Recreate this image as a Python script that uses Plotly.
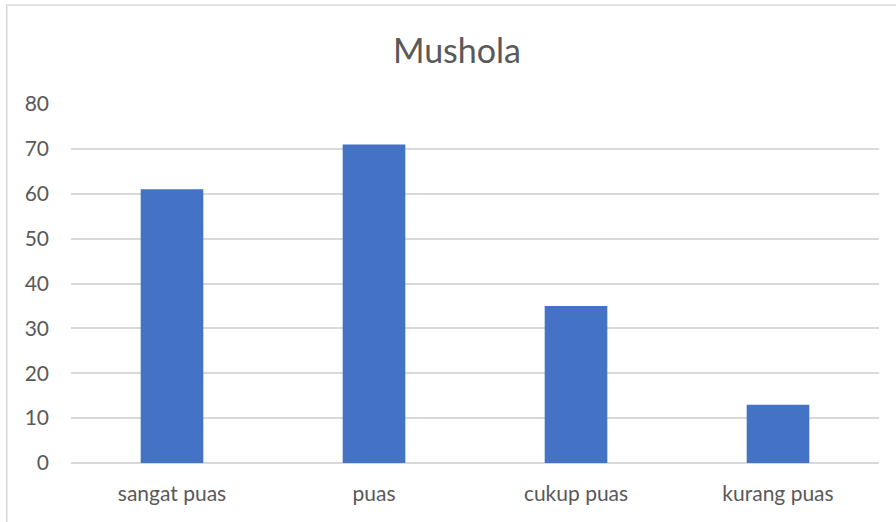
import plotly.graph_objects as go

BAR_BLUE = '#4472C4'
TEXT_GREY = '#595959'
GRID_GREY = '#D9D9D9'

categories = ['sangat puas', 'puas', 'cukup puas', 'kurang puas']
values = [61, 71, 35, 13]
y_ticks = [0, 10, 20, 30, 40, 50, 60, 70, 80]

fig = go.Figure()

fig.add_trace(go.Bar(
    x=categories,
    y=values,
    marker=dict(color=BAR_BLUE, line=dict(width=0)),
    width=0.31,
))

fig.update_layout(
    width=896,
    height=522,
    margin=dict(l=71, r=17, t=104, b=59),
    paper_bgcolor='white',
    plot_bgcolor='white',
    font=dict(family='Lato, Open Sans, sans-serif', color=TEXT_GREY, size=21),
    title=dict(text='Mushola', x=0.51, xanchor='center', y=0.902, yanchor='middle',
               font=dict(size=34, color=TEXT_GREY)),
    showlegend=False,
    xaxis=dict(showgrid=False, zeroline=False, showline=False, ticks='',
               ticklabelstandoff=16, tickfont=dict(size=21, color=TEXT_GREY)),
    yaxis=dict(range=[0, 80], tickvals=y_ticks, showgrid=True, gridcolor=GRID_GREY,
               gridwidth=1.5, zeroline=True, zerolinecolor=GRID_GREY, zerolinewidth=1.5,
               showline=False, ticks='', ticklabelstandoff=21,
               tickfont=dict(size=21, color=TEXT_GREY)),
    # light frame round the chart (left and top edges visible)
    shapes=[dict(type='rect', xref='paper', yref='paper', x0=-0.0795, x1=1.1, y0=-0.3,
                 y1=1.276, line=dict(color=GRID_GREY, width=1.5), layer='below')],
)

fig.write_html(
    "out.html",
    config={'displayModeBar': False},
    post_script="document.body.style.margin='0';document.body.style.overflow='hidden';",
)
